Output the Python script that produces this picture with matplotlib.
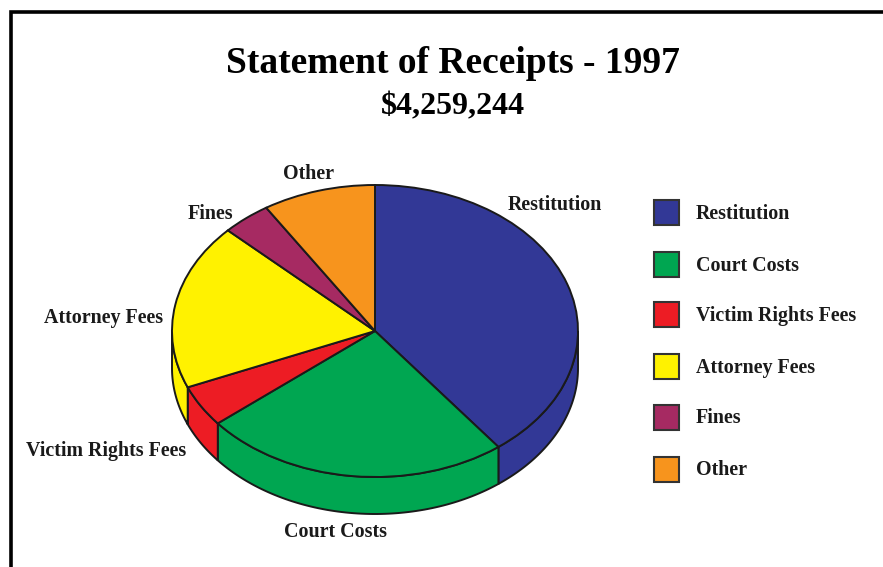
import numpy as np
import matplotlib.pyplot as plt
from matplotlib.patches import Rectangle

# Share of receipts in percent
categories = ['Restitution', 'Court Costs', 'Victim Rights Fees', 'Attorney Fees', 'Fines', 'Other']
shares = [39.6, 24.5, 4.6, 18.4, 3.9, 9.0]
colors = ['#323896', '#00A651', '#ED1C24', '#FFF200', '#A62A62', '#F7941D']
title = 'Statement of Receipts - 1997'
subtitle = '$4,259,244'

W, H = 883, 567
cx, cy = 375, 331  # pie centre in pixels
rx, ry = 203, 146
depth = 37 / ry
edge = '#1a1a1a'

plt.rcParams['font.family'] = ['Liberation Serif', 'DejaVu Serif']
plt.rcParams['font.weight'] = 'bold'

fig = plt.figure(figsize=(W / 100, H / 100), dpi=100)
ax = fig.add_axes([0, 0, 1, 1])

# pie in unit coordinates, stretched to an ellipse by the axes limits
wedges, _ = ax.pie(shares, colors=colors, startangle=90, counterclock=False, radius=1,
                   wedgeprops={'edgecolor': edge, 'linewidth': 1.4, 'zorder': 3})
ax.set_aspect('auto')
xlim = (-cx / rx, (W - cx) / rx)
ylim = ((cy - H) / ry, cy / ry)
ax.set_xlim(xlim)
ax.set_ylim(ylim)
ax.axis('off')


def px(x, y):
    # pixel position to data position
    return (x - cx) / rx, (cy - y) / ry


# side wall, only the part of each slice on the front of the pie
for w, c in zip(wedges, colors):
    a1, a2 = w.theta1 % 360, w.theta2 % 360
    if a2 <= a1:
        a2 += 360
    lo, hi = max(a1, 180), min(a2, 360)
    if hi <= lo:
        continue
    t = np.radians(np.linspace(lo, hi, 80))
    xs = np.r_[np.cos(t), np.cos(t[::-1])]
    ys = np.r_[np.sin(t), np.sin(t[::-1]) - depth]
    ax.fill(xs, ys, facecolor=c, edgecolor=edge, linewidth=1.4, zorder=2)

# frame, top and left only
x0, y0 = px(11, 12.5)
x1, y1 = px(W, H)
ax.plot([x0, x0, x1], [y1, y0, y0], color='black', linewidth=2.6, solid_joinstyle='miter', zorder=1)

tx, ty = px(453, 64)
ax.text(tx, ty, title, fontsize=27, ha='center', va='center', color='black')
tx, ty = px(453, 107)
ax.text(tx, ty, subtitle, fontsize=23, ha='center', va='center', color='black')

# labels around the pie
label_pos = [(555, 205), (336, 532), (106, 451), (104, 318), (210, 214), (308, 174)]
for name, (lx, ly) in zip(categories, label_pos):
    tx, ty = px(lx, ly)
    ax.text(tx, ty, name, fontsize=14.4, ha='center', va='center', color='#1a1a1a')

# legend keys drawn by hand, they sit at uneven spacing in the original
legend_y = [213, 265, 315, 367, 417, 469]
for name, c, ly in zip(categories, colors, legend_y):
    bx, by = px(653.5, ly + 12.5)
    ax.add_patch(Rectangle((bx, by), 25 / rx, 25 / ry, facecolor=c, edgecolor='#333333', linewidth=1.5))
    tx, ty = px(696, ly + 1)
    ax.text(tx, ty, name, fontsize=14.4, ha='left', va='center', color='#1a1a1a')

fig.savefig('out.png', dpi=100)
